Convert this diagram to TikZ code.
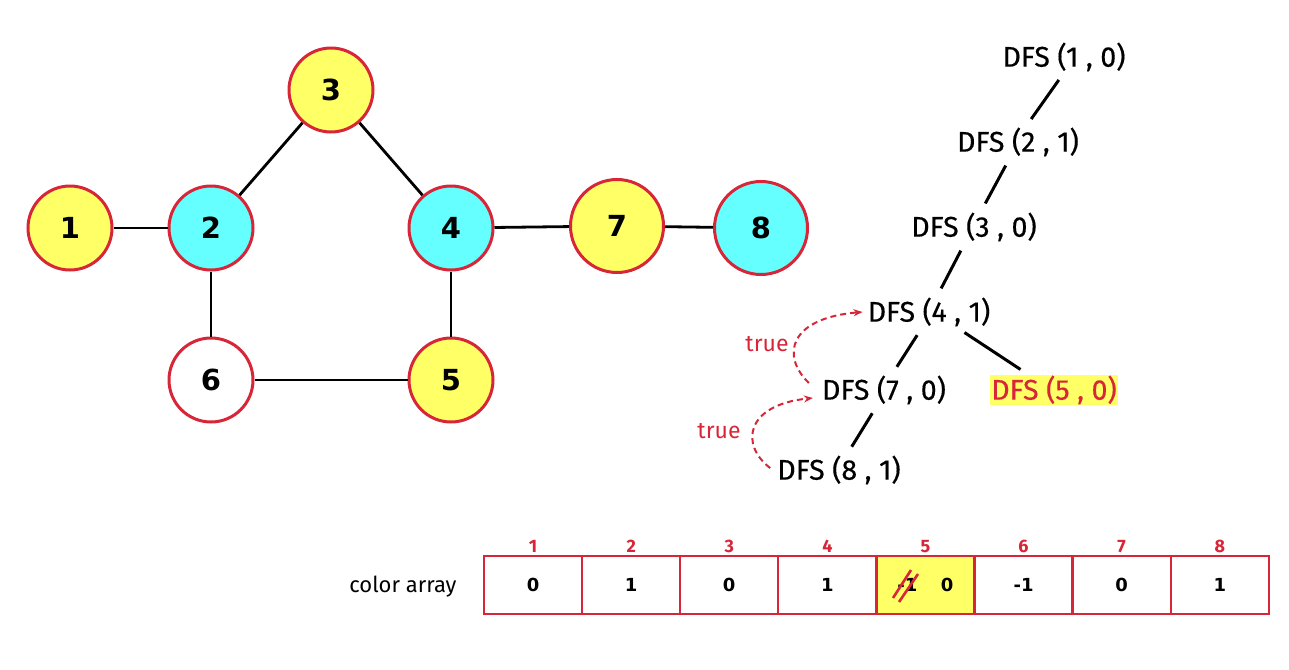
\documentclass[tikz,border=0pt]{standalone}
\usepackage{fontspec}
\usetikzlibrary{arrows.meta}
\setmainfont{Fira Sans}
\newfontfamily\sofont{DejaVu Sans}
\definecolor{vien}{HTML}{D72638}
\definecolor{vang}{HTML}{FFFF66}
\definecolor{lam}{HTML}{66FFFF}
\tikzset{
  dinh/.style={circle, draw=vien, line width=3pt, minimum size=84pt, inner sep=0pt,
    font=\sofont\bfseries\fontsize{29}{29}\selectfont},
  dinhlon/.style={dinh, minimum size=93pt},
  canh/.style={line width=2.8pt},
  goi/.style={inner sep=1pt, font=\fontsize{28.5}{28.5}\selectfont\addfontfeature{FakeBold=0.4}},
  nhanh/.style={line width=3pt, shorten <=9pt, shorten >=9pt},
  quaylui/.style={-{Stealth[length=9pt, width=7pt]}, vien, line width=2pt, dash pattern=on 6pt off 4pt},
  dung/.style={vien, font=\fontsize{23}{23}\selectfont},
  oo/.style={draw=vien, line width=2.2pt, minimum width=98pt, minimum height=58pt,
    inner sep=0pt, font=\sofont\bfseries\fontsize{18}{18}\selectfont},
}
\begin{document}
\begin{tikzpicture}[x=1pt, y=-1pt, >=stealth]
\useasboundingbox (0,0) rectangle (1289,669);
% Do thi
\node[dinh, fill=vang] (n1) at (70,228) {1};
\node[dinh, fill=lam] (n2) at (211,228) {2};
\node[dinh, fill=vang] (n3) at (331,90) {3};
\node[dinh, fill=lam] (n4) at (451,228) {4};
\node[dinh, fill=vang] (n5) at (451,380) {5};
\node[dinh, fill=white] (n6) at (211,380) {6};
\node[dinhlon, fill=vang] (n7) at (617,226) {7};
\node[dinhlon, fill=lam] (n8) at (761,228) {8};
\foreach \a/\b in {n1/n2, n2/n3, n3/n4, n2/n6, n6/n5, n4/n5, n4/n7, n7/n8}
  \draw[canh] (\a) -- (\b);

% Cay goi de quy
\node[goi] (d1) at (1064,57) {DFS (1 , 0)};
\node[goi] (d2) at (1018,142) {DFS (2 , 1)};
\node[goi] (d3) at (974,227) {DFS (3 , 0)};
\node[goi] (d4) at (929,312) {DFS (4 , 1)};
\node[goi] (d7) at (884,390) {DFS (7 , 0)};
\node[goi, fill=vang, text=vien] (d5) at (1054,390) {DFS (5 , 0)};
\node[goi] (d8) at (839,470) {DFS (8 , 1)};
\draw[nhanh] (d1.south) -- ([xshift=8pt]d2.north);
\draw[nhanh] ([xshift=-8pt]d2.south) -- ([xshift=7pt]d3.north);
\draw[nhanh] ([xshift=-9pt]d3.south) -- ([xshift=8pt]d4.north);
\draw[nhanh] ([xshift=-7pt]d4.south) -- ([xshift=8pt]d7.north);
\draw[nhanh] ([xshift=28pt]d4.south) -- ([xshift=-26pt]d5.north);
\draw[nhanh] ([xshift=-7pt]d7.south) -- ([xshift=8pt]d8.north);

% Tra ve true
\draw[quaylui] ([shift={(-12pt,7pt)}]d7.west) .. controls (780,355) and (790,318) .. ([xshift=-4pt]d4.west);
\draw[quaylui] ([shift={(-6pt,2pt)}]d8.west) .. controls (740,445) and (745,405) .. ([shift={(-8pt,-8pt)}]d7.west);
\node[dung] (t1) at (767,344) {true};
\node[dung] (t2) at (719,431) {true};

% Mang mau
\node[anchor=east, font=\fontsize{22}{22}\selectfont] (nhan) at (460,587) {color array};
\foreach \gt/\mau [count=\i] in {0/white, 1/white, 0/white, 1/white, {\makebox[56pt]{-1\hfill 0}}/vang, -1/white, 0/white, 1/white} {
  \node[oo, fill=\mau] (c\i) at ({484+98.1*(\i-0.5)},585) {\gt};
  \node[above, inner sep=2pt, vien, font=\bfseries\fontsize{18}{18}\selectfont] (s\i) at (c\i.north) {\i};
}
\draw[vien, line width=2.6pt] (893,598) -- (911,570) (899,602) -- (918,574);
\end{tikzpicture}
\end{document}
